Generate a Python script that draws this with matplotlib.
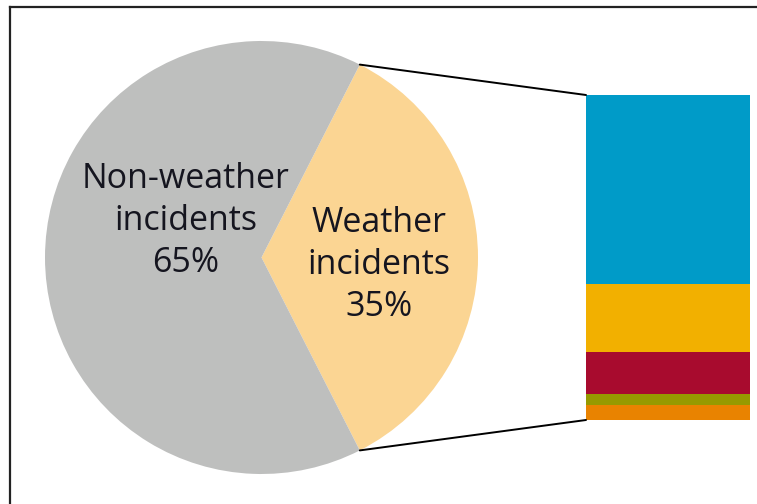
import matplotlib
matplotlib.use("Agg")
import matplotlib.pyplot as plt
from matplotlib.patches import ConnectionPatch
from matplotlib.lines import Line2D
import numpy as np

# Pie data
pie_labels = ["Weather\nincidents\n35%", "Non-weather\nincidents\n65%"]
pie_values = [35, 65]
pie_colors = ["#FBD593", "#BEBFBE"]

# Bar (breakdown of weather incidents), bottom to top
bar_values = [4.5, 3.5, 13, 21, 58]
bar_colors = ["#E98300", "#969A00", "#A80B2E", "#F2B000", "#009BC8"]

W, H = 757, 504
fig = plt.figure(figsize=(W / 100, H / 100), dpi=100)
plt.rcParams['font.family'] = ['Open Sans', 'DejaVu Sans']

ax = fig.add_axes([0, 0, 1, 1])
ax.set_xlim(0, W)
ax.set_ylim(0, H)
ax.set_aspect('equal')
ax.axis('off')

cx, cy, r = 261.5, H - 257.5, 216.5
half = pie_values[0] / 100 * 360 / 2
wedges, _ = ax.pie(pie_values, colors=pie_colors, startangle=-half,
                   center=(cx, cy), radius=r, frame=True,
                   wedgeprops=dict(linewidth=0))
ax.set_xlim(0, W)
ax.set_ylim(0, H)
ax.axis('off')

txtc = "#15151f"
ax.text(186, H - 221, pie_labels[1], ha='center', va='center',
        fontsize=24.5, color=txtc, linespacing=1.29, multialignment='center')
ax.text(379, H - 265, pie_labels[0], ha='center', va='center',
        fontsize=24.5, color=txtc, linespacing=1.29, multialignment='center')

# Bar axes
bx0, bx1, by_top, by_bot = 586, 750, 95, 420
bax = fig.add_axes([bx0 / W, (H - by_bot) / H, (bx1 - bx0) / W, (by_bot - by_top) / H])
bottom = 0
for v, c in zip(bar_values, bar_colors):
    bax.bar(0, v, bottom=bottom, width=1, color=c, linewidth=0)
    bottom += v
bax.set_xlim(-0.5, 0.5)
bax.set_ylim(0, sum(bar_values))
bax.axis('off')

# Connector lines
t1 = np.deg2rad(half)
t2 = np.deg2rad(-half)
for t, ya in [(t1, sum(bar_values)), (t2, 0)]:
    p = (cx + r * np.cos(t), cy + r * np.sin(t))
    con = ConnectionPatch(xyA=p, coordsA=ax.transData, xyB=(-0.5, ya),
                          coordsB=bax.transData, color='black', linewidth=1.4)
    fig.add_artist(con)

# Frame (left and top edges)
fig.add_artist(Line2D([9.5 / W, 9.5 / W], [0, (H - 7) / H], transform=fig.transFigure,
                      color='#222222', linewidth=1.6))
fig.add_artist(Line2D([9.5 / W, 1], [(H - 7) / H, (H - 7) / H], transform=fig.transFigure,
                      color='#222222', linewidth=1.6))

fig.savefig("out.png", dpi=100, facecolor='white')
